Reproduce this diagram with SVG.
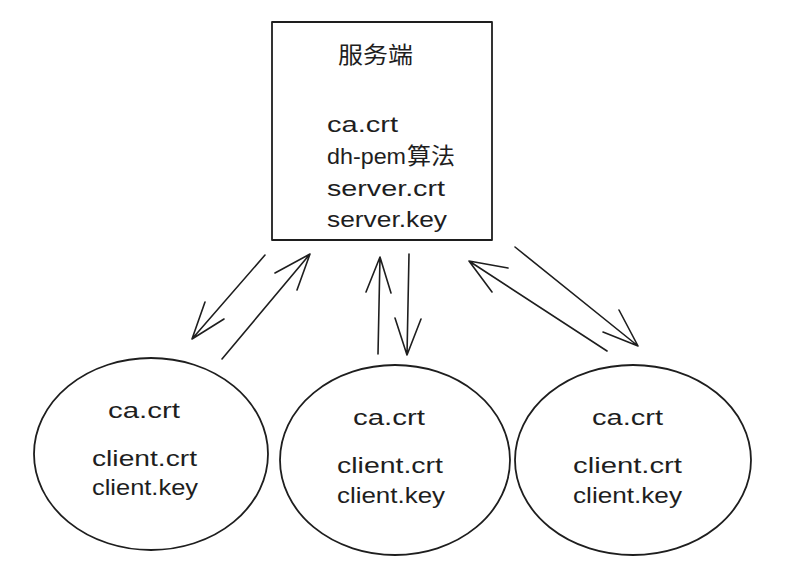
<svg xmlns="http://www.w3.org/2000/svg" width="806" height="588" viewBox="0 0 806 588">
<defs>
<style>
.shape{fill:none;stroke:#1e1e1e;stroke-width:1.8;stroke-linecap:round;stroke-linejoin:round}
.t{font-family:"Liberation Sans","Noto Sans CJK SC",sans-serif;font-size:22px;fill:#1e1e1e}
.cjk{font-family:"Noto Sans CJK SC",sans-serif;font-size:23px;fill:#1e1e1e}
.c{fill:none;stroke:#1e1e1e;stroke-width:1.6;stroke-linecap:round;stroke-linejoin:round}
</style>
</defs>
<rect width="806" height="588" fill="#ffffff"/>
<g id="server">
<rect class="shape" x="272" y="22" width="220" height="218"/>
<text class="cjk" x="338" y="63" textLength="75" lengthAdjust="spacingAndGlyphs">服务端</text>
<text class="t" x="327" y="132" textLength="71" lengthAdjust="spacingAndGlyphs">ca.crt</text>
<text class="t" x="327" y="164" textLength="79" lengthAdjust="spacingAndGlyphs">dh-pem</text>
<text class="cjk" x="407" y="164" textLength="48" lengthAdjust="spacingAndGlyphs">算法</text>
<text class="t" x="327" y="196" textLength="118" lengthAdjust="spacingAndGlyphs">server.crt</text>
<text class="t" x="327" y="227" textLength="120" lengthAdjust="spacingAndGlyphs">server.key</text>
</g>
<g id="client1">
<ellipse class="shape" cx="151" cy="454" rx="117" ry="96"/>
<text class="t" x="108" y="418" textLength="72" lengthAdjust="spacingAndGlyphs">ca.crt</text>
<text class="t" x="92" y="466" textLength="105" lengthAdjust="spacingAndGlyphs">client.crt</text>
<text class="t" x="92" y="495" textLength="106" lengthAdjust="spacingAndGlyphs">client.key</text>
</g>
<g id="client2">
<ellipse class="shape" cx="395" cy="460" rx="115" ry="95"/>
<text class="t" x="353" y="425" textLength="72" lengthAdjust="spacingAndGlyphs">ca.crt</text>
<text class="t" x="337" y="473" textLength="106" lengthAdjust="spacingAndGlyphs">client.crt</text>
<text class="t" x="337" y="503" textLength="108" lengthAdjust="spacingAndGlyphs">client.key</text>
</g>
<g id="client3">
<ellipse class="shape" cx="633" cy="460" rx="118" ry="95"/>
<text class="t" x="592" y="425" textLength="71" lengthAdjust="spacingAndGlyphs">ca.crt</text>
<text class="t" x="573" y="473" textLength="109" lengthAdjust="spacingAndGlyphs">client.crt</text>
<text class="t" x="573" y="503" textLength="109" lengthAdjust="spacingAndGlyphs">client.key</text>
</g>
<g id="connectors">
<path class="c" d="M265 255 L192 339 M205 302 L192 339 L224 319"/>
<path class="c" d="M222 359 L310 254 M275 273 L310 254 L297 290"/>
<path class="c" d="M378 354 L380 257 M366 292 L380 257 L391 293"/>
<path class="c" d="M409 254 L407 355 M395 318 L407 355 L421 319"/>
<path class="c" d="M607 351 L469 261 M508 268 L469 261 L492 292"/>
<path class="c" d="M515 247 L638 346 M619 310 L638 346 L603 332"/>
</g>
</svg>
